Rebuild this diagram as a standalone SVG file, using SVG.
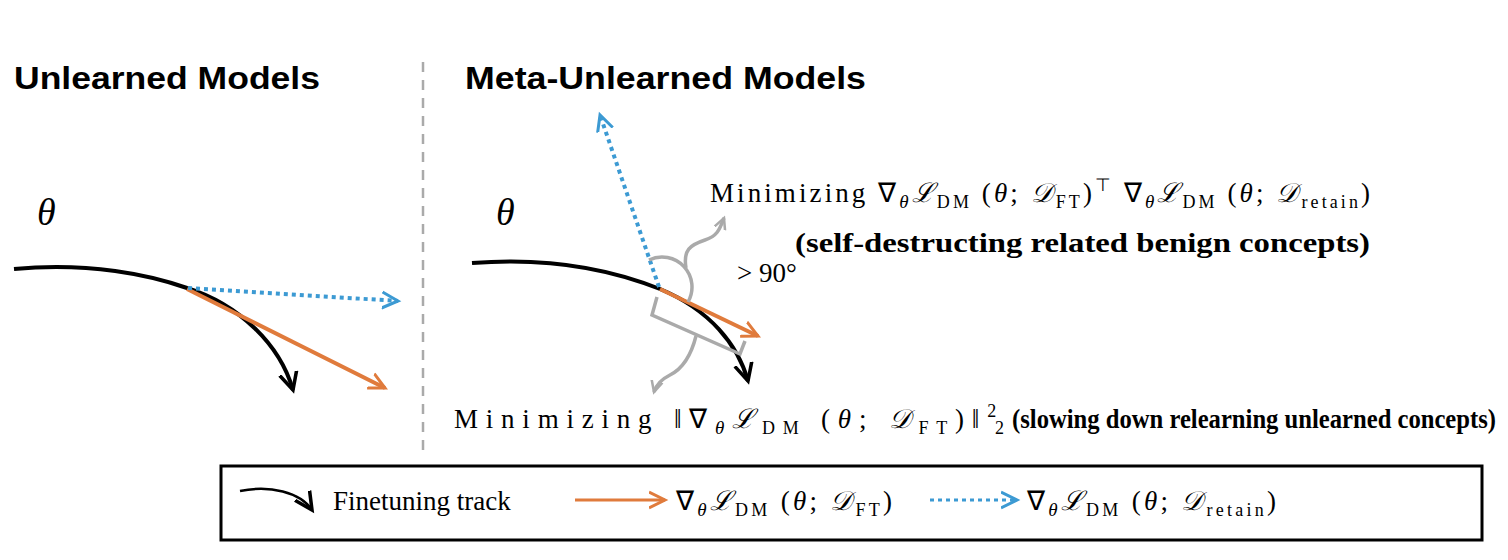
<svg xmlns="http://www.w3.org/2000/svg" width="1508" height="560" viewBox="0 0 1508 560">
<defs>
<style>
.h{font-family:"Liberation Sans",Arial,sans-serif;font-weight:bold;font-size:31px}
.t{font-family:"Liberation Serif","Times New Roman",serif;font-size:27px}
.m{font-family:"Liberation Serif","Times New Roman",serif;font-style:italic}
.b{font-family:"Liberation Serif","Times New Roman",serif;font-weight:bold;font-size:27px}
.k{fill:none;stroke:#000;stroke-width:4}
.o{fill:none;stroke:#e07b3c;stroke-width:4}
.bl{fill:none;stroke:#3c9ad3;stroke-width:4;stroke-dasharray:4 4}
.g{fill:none;stroke:#aaa;stroke-width:3.5}
</style>
<marker id="ao" viewBox="0 0 10 10" refX="8" refY="5" markerWidth="20" markerHeight="20" orient="auto" markerUnits="userSpaceOnUse"><path d="M0,1 L8,5 L0,9" fill="none" stroke="#e07b3c" stroke-width="1.5"/></marker>
<marker id="ab" viewBox="0 0 10 10" refX="8" refY="5" markerWidth="20" markerHeight="20" orient="auto" markerUnits="userSpaceOnUse"><path d="M0,1 L8,5 L0,9" fill="none" stroke="#3c9ad3" stroke-width="1.5"/></marker>
<marker id="ag" viewBox="0 0 10 10" refX="8" refY="5" markerWidth="14" markerHeight="14" orient="auto" markerUnits="userSpaceOnUse"><path d="M0,1 L8,5 L0,9" fill="none" stroke="#aaa" stroke-width="1.8"/></marker>
<marker id="ak2" viewBox="0 0 10 10" refX="8" refY="5" markerWidth="22" markerHeight="22" orient="auto" markerUnits="userSpaceOnUse"><path d="M0,1 L8,5 L0,9" fill="none" stroke="#000" stroke-width="1.6"/></marker>
</defs>
<rect width="1508" height="560" fill="#fff"/>
<text class="h" x="14" y="89" textLength="306" lengthAdjust="spacingAndGlyphs">Unlearned Models</text>
<text class="h" x="465" y="89" textLength="401" lengthAdjust="spacingAndGlyphs">Meta-Unlearned Models</text>
<line x1="423" y1="62" x2="423" y2="455" stroke="#aaa" stroke-width="2.5" stroke-dasharray="10 8"/>
<text class="m" x="37" y="225" font-size="38">θ</text>
<text class="m" x="496" y="225" font-size="38">θ</text>
<g id="connectors">
<path class="k" d="M14,269 C90,262 150,275 187,288 C240,305 280,345 293,390" marker-end="url(#ak2)"/>
<line class="o" x1="187" y1="289" x2="385" y2="388" marker-end="url(#ao)"/>
<line class="bl" x1="188" y1="288" x2="398" y2="301" marker-end="url(#ab)"/>
<path class="k" d="M472,263 C560,256 620,273 660,289 C710,310 738,345 748,381" marker-end="url(#ak2)"/>
<line class="o" x1="660" y1="289" x2="758" y2="336" marker-end="url(#ao)"/>
<line class="bl" x1="659" y1="287" x2="600" y2="115" marker-end="url(#ab)"/>
<path class="g" d="M649,260 A30,30 0 0 1 688,302"/>
<path class="g" d="M657,297 L652,315 L740,354 L745,341"/>
<path class="g" d="M696,336 C690,360 680,370 670,375 C660,380 656,385 654,392" marker-end="url(#ag)"/>
<path class="g" d="M686,268 C683,250 690,245 705,240 C718,236 720,228 724,218" marker-end="url(#ag)"/>
</g>
<text class="t" x="710" y="202" textLength="660" lengthAdjust="spacing">Minimizing ∇<tspan class="m" font-size="19" dy="6">θ</tspan><tspan class="m" dy="-6">ℒ</tspan><tspan font-size="18" dy="6">DM</tspan><tspan dy="-6"> (</tspan><tspan class="m">θ</tspan>; <tspan class="m">𝒟</tspan><tspan font-size="18" dy="6">FT</tspan><tspan dy="-6">)</tspan><tspan font-size="18" dy="-11">⊤</tspan><tspan dy="11"> ∇</tspan><tspan class="m" font-size="19" dy="6">θ</tspan><tspan class="m" dy="-6">ℒ</tspan><tspan font-size="18" dy="6">DM</tspan><tspan dy="-6"> (</tspan><tspan class="m">θ</tspan>; <tspan class="m">𝒟</tspan><tspan font-size="18" dy="6">retain</tspan><tspan dy="-6">)</tspan></text>
<text class="b" x="795" y="252" textLength="575" lengthAdjust="spacingAndGlyphs">(self-destructing related benign concepts)</text>
<text class="t" x="737" y="282">&gt; 90°</text>
<text class="t" x="454" y="428" textLength="550" lengthAdjust="spacing">Minimizing ‖∇<tspan class="m" font-size="19" dy="6">θ</tspan><tspan class="m" dy="-6">ℒ</tspan><tspan font-size="18" dy="6">DM</tspan><tspan dy="-6"> (</tspan><tspan class="m">θ</tspan>; <tspan class="m">𝒟</tspan><tspan font-size="18" dy="6">FT</tspan><tspan dy="-6">)‖</tspan><tspan font-size="18" dy="-11">2</tspan><tspan font-size="18" dx="-9" dy="17">2</tspan></text>
<text class="b" x="1012" y="428" textLength="484" lengthAdjust="spacingAndGlyphs">(slowing down relearning unlearned concepts)</text>
<g id="legend">
<rect x="221" y="466" width="1261" height="74" fill="none" stroke="#000" stroke-width="3"/>
<path d="M240,491 C270,485 300,492 312,510" fill="none" stroke="#000" stroke-width="2.5" marker-end="url(#ak2)"/>
<text class="t" x="333" y="510">Finetuning track</text>
<line x1="575" y1="500" x2="665" y2="500" stroke="#e07b3c" stroke-width="3" marker-end="url(#ao)"/>
<text class="t" x="676" y="510" textLength="216" lengthAdjust="spacing">∇<tspan class="m" font-size="19" dy="6">θ</tspan><tspan class="m" dy="-6">ℒ</tspan><tspan font-size="18" dy="6">DM</tspan><tspan dy="-6"> (</tspan><tspan class="m">θ</tspan>; <tspan class="m">𝒟</tspan><tspan font-size="18" dy="6">FT</tspan><tspan dy="-6">)</tspan></text>
<line x1="930" y1="500" x2="1017" y2="500" stroke="#3c9ad3" stroke-width="3" stroke-dasharray="4 4" marker-end="url(#ab)"/>
<text class="t" x="1027" y="510" textLength="249" lengthAdjust="spacing">∇<tspan class="m" font-size="19" dy="6">θ</tspan><tspan class="m" dy="-6">ℒ</tspan><tspan font-size="18" dy="6">DM</tspan><tspan dy="-6"> (</tspan><tspan class="m">θ</tspan>; <tspan class="m">𝒟</tspan><tspan font-size="18" dy="6">retain</tspan><tspan dy="-6">)</tspan></text>
</g>
</svg>
